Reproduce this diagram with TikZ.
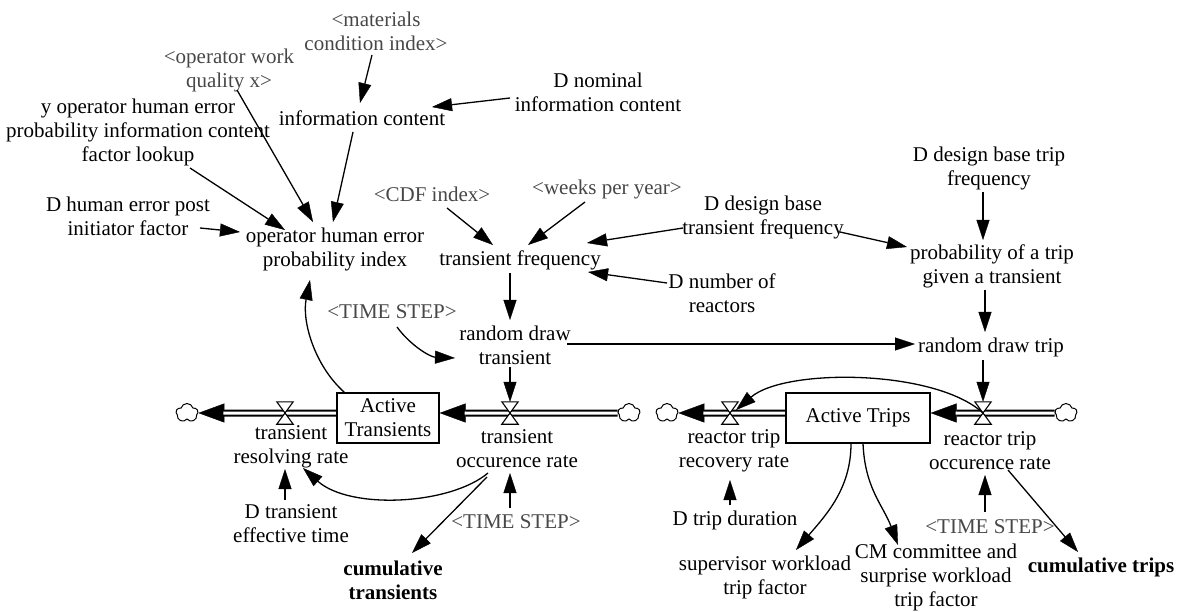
\documentclass[tikz,border=0pt]{standalone}
\usepackage{fontspec}
\setmainfont{Liberation Serif}
\usetikzlibrary{arrows.meta,calc,shapes.symbols}
\pgfdeclarelayer{pipes}
\pgfsetlayers{pipes,main}
\newcommand\vfont{\fontsize{21}{24}\selectfont}
% hourglass valve drawn over a flow pipe
\newcommand\drawvalve[1]{%
  \filldraw[fill=white, line width=1.1pt, line join=miter]
    (#1.north west) -- (#1.north east) -- (#1.center) -- cycle
    (#1.south west) -- (#1.south east) -- (#1.center) -- cycle;}
\begin{document}
\begin{tikzpicture}[x=1pt,y=-1pt,
  var/.style={font=\vfont, align=center, inner sep=1pt},
  shadow/.style={var, text=black!72},
  bvar/.style={var, font=\vfont\bfseries},
  stock/.style={draw, line width=1.2pt, inner sep=0pt, font=\vfont, align=center},
  valvebox/.style={minimum width=16pt, minimum height=22pt, inner sep=0pt},
  sink/.style={cloud, draw, fill=white, cloud puffs=5, cloud puff arc=150, aspect=1.15,
    minimum width=22pt, minimum height=19pt, inner sep=0pt, line width=1pt},
  link/.style={line width=1.3pt, -{Triangle[length=20pt,width=13pt,line width=0.4pt]}},
  pipeo/.style={line width=7pt, -{Triangle[length=26pt,width=19pt,line width=0.4pt]}},
  pipei/.style={line width=3pt, white, shorten >=25pt},
]
\useasboundingbox (0,0) rectangle (1178,612);

% ---- auxiliaries and converters
\node[shadow] (matci) at (376,31) {<materials\\condition index>};
\node[shadow] (opwq) at (229,70) {<operator work\\quality x>};
\node[var] (ylook) at (138,132) {y operator human error\\probability information content\\factor lookup};
\node[var] (infoc) at (362,118) {information content};
\node[var] (dnom) at (598,92) {D nominal\\information content};
\node[var] (ophe) at (335,249) {operator human error\\probability index};
\node[var] (dhe) at (128,216) {D human error post\\initiator factor};
\node[shadow] (cdf) at (432,194) {<CDF index>};
\node[shadow] (weeks) at (607,189) {<weeks per year>};
\node[var] (trfreq) at (520,260) {transient frequency};
\node[var] (ddbtf) at (763,217) {D design base\\transient frequency};
\node[var] (dnr) at (722,293) {D number of\\reactors};
\node[var] (ddbtrip) at (989,168) {D design base trip\\frequency};
\node[var] (prob) at (992,266) {probability of a trip\\given a transient};
\node[var] (rdtrip) at (991,347) {random draw trip};
\node[var] (rdtr) at (515,345) {random draw\\transient};
\node[shadow] (ts1) at (392,312) {<TIME STEP>};

% ---- stocks, valves and clouds
\node[stock, minimum width=102pt, minimum height=50pt] (at) at (388,418) {Active\\Transients};
\node[stock, minimum width=144pt, minimum height=50pt] (atrips) at (858,418) {Active Trips};
\node[valvebox] (v1) at (285,413) {};
\node[valvebox] (v2) at (510,413) {};
\node[valvebox] (v3) at (730,413) {};
\node[valvebox] (v4) at (983,413) {};
\node[sink] (c1) at (187,413) {};
\node[sink] (c2) at (629,413) {};
\node[sink] (c3) at (667,413) {};
\node[sink] (c4) at (1066,413) {};

% ---- flow rate labels and the rest
\node[var] (trr) at (291,447) {transient\\resolving rate};
\node[var] (tor) at (517,449) {transient\\occurence rate};
\node[var] (rtrr) at (734,451) {reactor trip\\recovery rate};
\node[var] (rtor) at (990,451) {reactor trip\\occurence rate};
\node[var] (dtet) at (291,524) {D transient\\effective time};
\node[shadow] (ts2) at (516,522) {<TIME STEP>};
\node[bvar] (cumt) at (393,580) {cumulative\\transients};
\node[var] (dtd) at (735,520) {D trip duration};
\node[var] (swtf) at (765,577) {supervisor workload\\trip factor};
\node[var] (cmc) at (936,577) {CM committee and\\surprise workload\\trip factor};
\node[shadow] (ts3) at (990,527) {<TIME STEP>};
\node[bvar] (cumtrips) at (1101,567) {cumulative trips};

% ---- pipes
\begin{pgfonlayer}{pipes}
\draw[pipeo] (at.west |- v1) -- (c1.east);
\draw[pipei] (at.west |- v1) -- (c1.east);
\draw[pipeo] (c2.west) -- (at.east |- v2);
\draw[pipei] (c2.west) -- (at.east |- v2);
\draw[pipeo] (atrips.west |- v3) -- (c3.east);
\draw[pipei] (atrips.west |- v3) -- (c3.east);
\draw[pipeo] (c4.west) -- (atrips.east |- v4);
\draw[pipei] (c4.west) -- (atrips.east |- v4);
\end{pgfonlayer}
\drawvalve{v1}
\drawvalve{v2}
\drawvalve{v3}
\drawvalve{v4}

% ---- information links, upper part
\draw[link] ($(matci)+(-4,24)$) -- ($(infoc)+(-2,-15)$);
\draw[link] ($(dnom)+(-88,6)$) -- ($(infoc)+(70,-11)$);
\draw[link] ($(infoc)+(-9,14)$) -- ($(ophe)+(-2,-27)$);
\draw[link] ($(ylook)+(52,36)$) -- ($(ophe)+(-50,-19)$);
\draw[link] ($(opwq)+(8,20)$) -- ($(ophe)+(-22,-27)$);
\draw[link] ($(dhe)+(72,12)$) -- ($(ophe)+(-95,-17)$);
\draw[link] ($(cdf)+(15,14)$) -- ($(trfreq)+(-27,-15)$);
\draw[link] ($(weeks)+(-22,13)$) -- ($(trfreq)+(8,-15)$);
\draw[link] ($(ddbtf)+(-80,11)$) -- ($(trfreq)+(67,-17)$);
\draw[link] ($(dnr)+(-55,-10)$) -- ($(trfreq)+(68,12)$);
\draw[link] ($(ddbtf)+(77,15)$) -- ($(prob)+(-85,-19)$);
\draw[link] ($(ddbtrip)+(-6,24)$) -- ($(prob)+(-9,-26)$);
\draw[link] ($(prob)+(-7,24)$) -- ($(rdtrip)+(-6,-15)$);
\draw[link] ($(trfreq)+(-10,13)$) -- ($(rdtr)+(-5,-25)$);
\draw[link] ($(ts1)+(5,15)$) .. controls +(13,18) and +(-25,-1) .. ($(rdtr)+(-60,13)$);
\draw[link] ($(rdtr)+(52,-1)$) -- ($(rdtrip)+(-76,-3)$);

% ---- information links around the stocks
\draw[link] ($(rdtr)+(-5,22)$) -- (v2.north);
\draw[link] ($(rdtrip)+(-8,13)$) -- (v4.north);
\draw[link] ($(at.north west)+(8,0)$) .. controls +(-31,-28) and +(-8,40) .. ($(ophe)+(-25,31)$);
\draw[link] ($(tor)+(-29,24)$) .. controls +(-38,32) and +(47,42) .. ($(trr)+(12,21)$);
\draw[link] ($(tor)+(-30,28)$) -- ($(cumt)+(19,-27)$);
\draw[link] ($(ts2)+(-6,-14)$) -- ($(tor)+(-7,24)$);
\draw[link] ($(dtet)+(-6,-24)$) -- ($(trr)+(-6,22)$);
\draw[link] (v4.center) .. controls +(-48,-44) and +(49,-42) .. ($(v3.center)+(6,-3)$);
\draw[link] ($(dtd)+(-5,-15)$) -- ($(rtrr)+(-4,29)$);
\draw[link] ($(ts3)+(-5,-15)$) -- ($(rtor)+(-5,24)$);
\draw[link] ($(rtor)+(18,19)$) -- ($(cumtrips)+(-23,-15)$);
\draw[link] ($(atrips.south)+(-7,0)$) .. controls +(0,45) and +(30,-35) .. ($(swtf)+(31,-27)$);
\draw[link] ($(atrips.south)+(5,0)$) .. controls +(2,45) and +(-15,-40) .. ($(cmc)+(-38,-32)$);
\end{tikzpicture}
\end{document}
